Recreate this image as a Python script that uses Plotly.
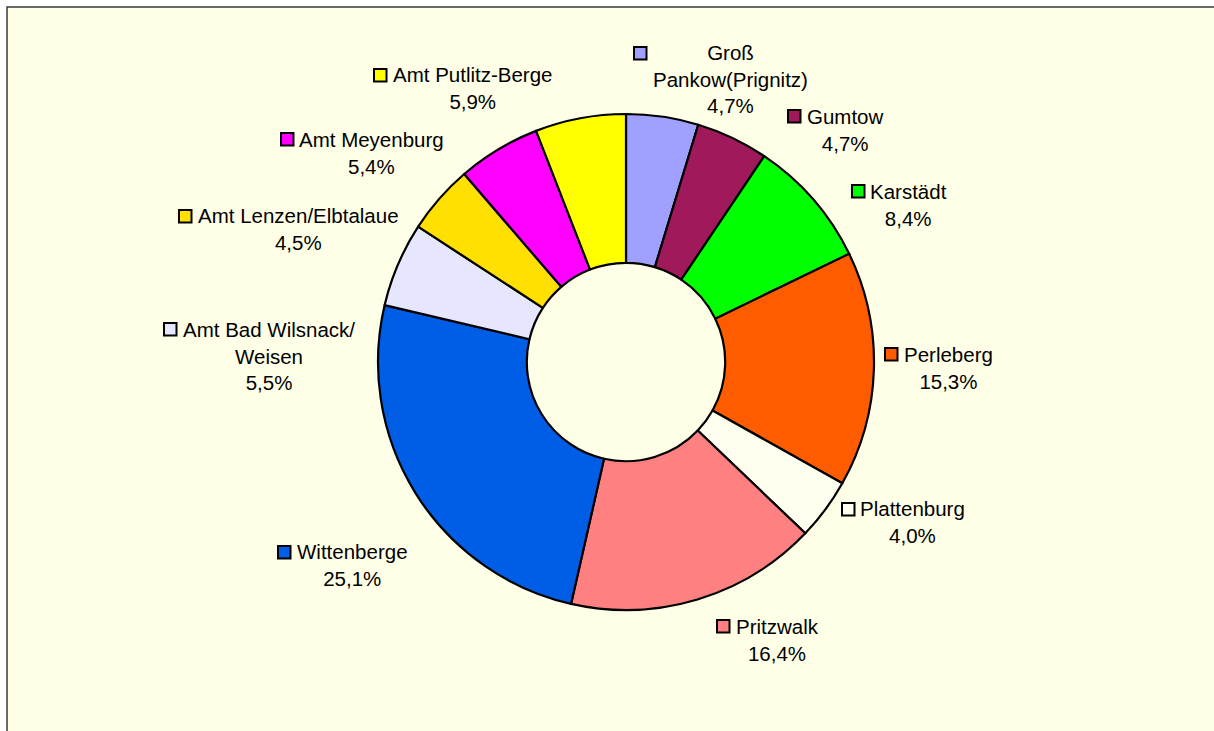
import plotly.graph_objects as go

# ---- data ----
categories = ["Groß Pankow(Prignitz)", "Gumtow", "Karstädt", "Perleberg", "Plattenburg",
              "Pritzwalk", "Wittenberge", "Amt Bad Wilsnack/ Weisen", "Amt Lenzen/Elbtalaue",
              "Amt Meyenburg", "Amt Putlitz-Berge"]
shares = [4.7, 4.7, 8.4, 15.3, 4.0, 16.4, 25.1, 5.5, 4.5, 5.4, 5.9]
label_text = ["Groß<br>Pankow(Prignitz)", "Gumtow", "Karstädt", "Perleberg", "Plattenburg",
              "Pritzwalk", "Wittenberge", "Amt Bad Wilsnack/<br>Weisen", "Amt Lenzen/Elbtalaue",
              "Amt Meyenburg", "Amt Putlitz-Berge"]
colors = ["#A0A0FF", "#A0195B", "#00FF00", "#FF5C00", "#FFFFF0", "#FF8080",
          "#005DE6", "#E6E6FF", "#FFE000", "#FF00FF", "#FFFF00"]

# ---- layout helpers (pixel positions of labels) ----
W, H = 1214, 731
BG = "#FFFFE8"

def X(px):
    return px / W

def Y(py):
    return 1 - py / H

# square (x0, y0) top-left in px, text left px, first baseline px
label_pos = [
    (633, 46, 653, 59),
    (787, 109, 807, 123),
    (851, 184, 870, 198),
    (884, 347, 904, 361),
    (841, 502, 860, 515),
    (716, 619, 736, 633),
    (277, 545, 297, 558),
    (163, 322, 183, 336),
    (178, 209, 198, 222),
    (280, 132, 299, 146),
    (373, 68, 393, 81),
]

fig = go.Figure()
fig.add_trace(go.Pie(
    labels=categories,
    values=shares,
    sort=False,
    direction="clockwise",
    rotation=0,
    hole=0.4,
    textinfo="none",
    marker=dict(colors=colors, line=dict(color="black", width=2.2)),
    domain=dict(x=[X(378), X(874)], y=[Y(610), Y(114)]),
    showlegend=False,
))

shapes = [dict(type="rect", xref="paper", yref="paper", layer="below",
               x0=X(7), x1=1.05, y0=-0.05, y1=Y(7),
               fillcolor=BG, line=dict(color="#3a3a3a", width=1.5))]
annotations = []
fs = 20.5
for name, val, col, (sx, sy, tx, bl) in zip(label_text, shares, colors, label_pos):
    shapes.append(dict(type="rect", xref="paper", yref="paper", layer="above",
                       x0=X(sx + 1), x1=X(sx + 13.5), y0=Y(sy + 13.5), y1=Y(sy + 1),
                       fillcolor=col, line=dict(color="black", width=2)))
    pct = f"{val:.1f}".replace(".", ",") + "%"
    annotations.append(dict(xref="paper", yref="paper", x=X(tx - 2), y=Y(bl - 20),
                            xanchor="left", yanchor="top", align="center",
                            showarrow=False, text=f"{name}<br>{pct}",
                            font=dict(family="Liberation Sans, Arial, sans-serif", size=fs, color="black")))

fig.update_layout(
    width=W, height=H,
    margin=dict(l=0, r=0, t=0, b=0),
    paper_bgcolor="white",
    plot_bgcolor="white",
    shapes=shapes,
    annotations=annotations,
)

fig.write_html("out.html",
               config={"displayModeBar": False},
               post_script="document.body.style.margin='0px';document.body.style.overflow='hidden';")
